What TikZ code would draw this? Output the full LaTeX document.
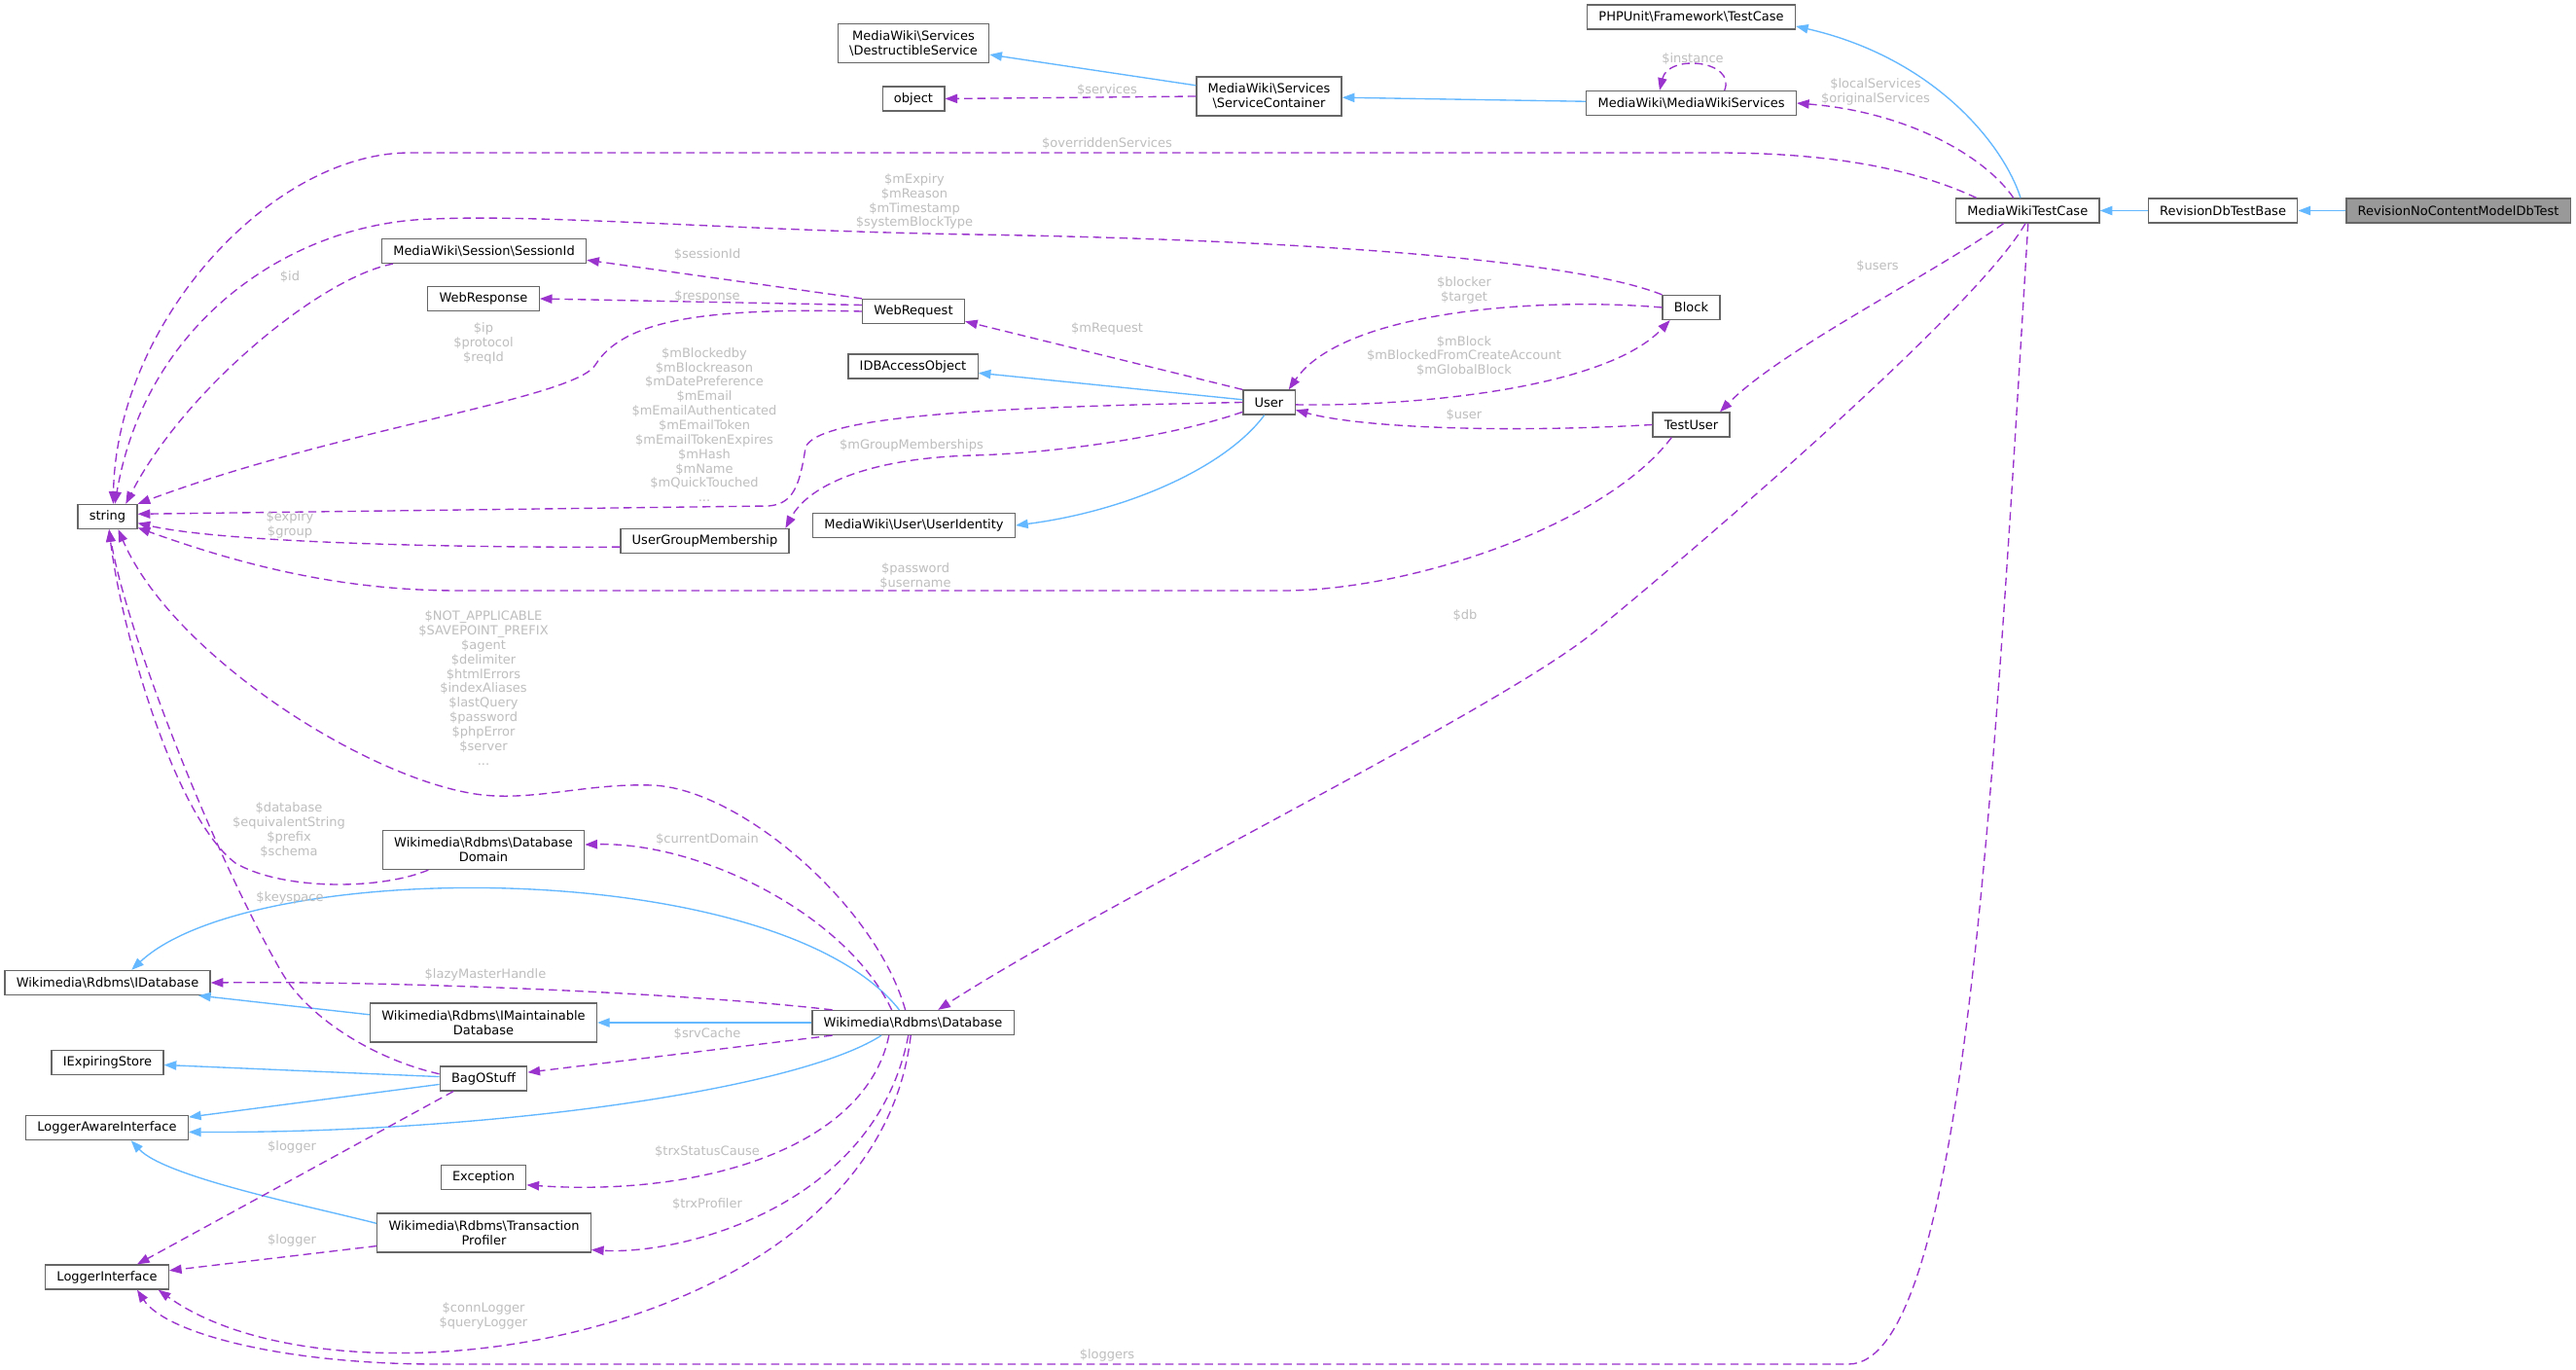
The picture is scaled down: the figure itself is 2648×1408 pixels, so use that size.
\documentclass[tikz,border=0pt]{standalone}
\usepackage{fontspec}
\setmainfont{DejaVu Sans}
\usepackage{tikz}
\usetikzlibrary{arrows.meta, positioning}
\definecolor{inhblue}{HTML}{63B8FF}
\definecolor{usepurple}{HTML}{9A32CD}
\definecolor{lblgrey}{HTML}{BEBEBE}
\definecolor{boxgrey}{HTML}{666666}
\definecolor{mainfill}{HTML}{999999}
\newcommand{\bs}{\textbackslash}

\begin{document}
\begin{tikzpicture}[
    x=0.5922pt, y=-0.5922pt,
    node distance=28.9pt,
    cls/.style={rectangle, draw=boxgrey, line width=0.75pt, fill=white, inner xsep=7pt, inner ysep=0pt, minimum height=14.8pt, align=center, font=\fontsize{7.7}{8.9}\selectfont},
    cls2/.style={cls, minimum height=23.7pt},
    mainbox/.style={cls, fill=mainfill},
    inh/.style={-{Triangle[length=7.5pt 0, width=5.5pt 0]}, draw=inhblue, line width=0.8pt},
    usage/.style={-{Triangle[length=7.5pt 0, width=5.5pt 0]}, draw=usepurple, line width=0.8pt, dash pattern=on 5pt off 3pt},
    lbl/.style={text=lblgrey, align=center, inner sep=0pt, font=\fontsize{7.7}{8.8}\selectfont},
]
\path[fill=white, use as bounding box] (0,0) rectangle (2648,1408);

% Test classes
\node[mainbox] (rncmdt) at (2527,216.5) {RevisionNoContentModelDbTest};
\node[cls, left=28.9pt of rncmdt] (rdtb) {RevisionDbTestBase};
\node[cls, left=29pt of rdtb] (mwtc) {MediaWikiTestCase};
\node[cls] (phpunit) at (1738.5,17.5) {PHPUnit\bs Framework\bs TestCase};

% Services
\node[cls] (mws) at (1738.5,106) {MediaWiki\bs MediaWikiServices};
\node[cls2] (sc) at (1304.5,99) {MediaWiki\bs Services\\\bs ServiceContainer};
\node[cls2] (ds) at (939,44.5) {MediaWiki\bs Services\\\bs DestructibleService};
\node[cls] (object) at (939,101.5) {object};

% Users and requests
\node[cls] (sessid) at (497.5,258) {MediaWiki\bs Session\bs SessionId};
\node[cls] (webresp) at (497,307) {WebResponse};
\node[cls] (webreq) at (939,320) {WebRequest};
\node[cls] (idbao) at (938.5,376.5) {IDBAccessObject};
\node[cls] (user) at (1304.5,413.5) {User};
\node[cls] (block) at (1738.5,316) {Block};
\node[cls] (testuser) at (1738.5,436.5) {TestUser};
\node[cls] (string) at (110.5,531) {string};
\node[cls] (uident) at (939.5,540) {MediaWiki\bs User\bs UserIdentity};
\node[cls] (ugm) at (724.5,556) {UserGroupMembership};

% Database side
\node[cls2] (dd) at (497,873.5) {Wikimedia\bs Rdbms\bs Database\\Domain};
\node[cls] (idb) at (110.5,1010) {Wikimedia\bs Rdbms\bs IDatabase};
\node[cls2] (imd) at (497,1051) {Wikimedia\bs Rdbms\bs IMaintainable\\Database};
\node[cls] (database) at (938.5,1051) {Wikimedia\bs Rdbms\bs Database};
\node[cls] (ies) at (110.5,1092) {IExpiringStore};
\node[cls] (bag) at (497,1108.5) {BagOStuff};
\node[cls] (lai) at (110,1159) {LoggerAwareInterface};
\node[cls] (exc) at (497,1210) {Exception};
\node[cls2] (tp) at (497.5,1267) {Wikimedia\bs Rdbms\bs Transaction\\Profiler};
\node[cls] (li) at (110,1312.5) {LoggerInterface};

% Inheritance
\draw[inh] (rncmdt) -- (rdtb);
\draw[inh] (rdtb) -- (mwtc);
\draw[inh] (mwtc.119) .. controls (2060,150) and (1990,60) .. (phpunit.-5);
\draw[inh] (mws) -- (sc);
\draw[inh] (sc) -- (ds);
\draw[inh] (user) -- (idbao);
\draw[inh] (user.250) .. controls (1260,480) and (1160,525) .. (uident.east);
\draw[inh] (database.137) .. controls (800,880) and (260,880) .. (idb.28);
\draw[inh] (imd.176) -- (idb.-8);
\draw[inh] (database) -- (imd);
\draw[inh] (bag) -- (ies);
\draw[inh] (bag) -- (lai);
\draw[inh] (database.-158) .. controls (820,1120) and (500,1165) .. (lai.-3);
\draw[inh] (tp.175) .. controls (320,1240) and (170,1210) .. (lai.-28);

% Usage: test case and services
\draw[usage] (mwtc.138) .. controls (2040,160) and (1960,115) .. (mws.east);
\draw[usage] (mws.21) .. controls (1785,62) and (1715,55) .. (mws.158);
\draw[usage] (sc.west) -- (object.east);
\draw[usage] (mwtc.166) .. controls (1960,170) and (1870,157) .. (1763,157) -- (421,157) .. controls (280,157) and (120,330) .. (string.66);
\draw[usage] (mwtc.-152) .. controls (1990,280) and (1830,360) .. (testuser.24);
\draw[usage] (mwtc.-100) .. controls (2030,320) and (1730,575) .. (1638,650) .. controls (1540,730) and (1130,930) .. (database.27);
\draw[usage] (mwtc.-88) .. controls (2050,800) and (2020,1402) .. (1900,1402) -- (450,1402) .. controls (290,1402) and (170,1370) .. (li.-23);

% Usage: users, blocks, requests
\draw[usage] (block.north west) .. controls (1600,260) and (1250,245) .. (1000,241) .. controls (760,237) and (560,220) .. (446,225) .. controls (300,228) and (150,330) .. (string.60);
\draw[usage] (sessid.188) .. controls (330,285) and (190,400) .. (string.35);
\draw[usage] (webreq.north west) -- (sessid.-5);
\draw[usage] (webreq.173) -- (webresp.east);
\draw[usage] (webreq.west) .. controls (720,316) and (640,330) .. (612,375) .. controls (590,410) and (350,440) .. (string.north east);
\draw[usage] (user.north west) -- (webreq.-11);
\draw[usage] (user.-5) .. controls (1450,418) and (1650,400) .. (block.-149);
\draw[usage] (block.west) .. controls (1580,305) and (1380,320) .. (user.33);
\draw[usage] (testuser.west) .. controls (1550,445) and (1400,440) .. (user.-16);
\draw[usage] (user.west) .. controls (1050,418) and (840,425) .. (828,460) .. controls (822,500) and (815,518) .. (790,520) -- (string.5);
\draw[usage] (user.200) .. controls (1200,450) and (1080,466) .. (1000,468) .. controls (890,471) and (830,500) .. (ugm.9);
\draw[usage] (ugm.184) .. controls (520,563) and (240,560) .. (string.-12);
\draw[usage] (testuser.-147) .. controls (1650,540) and (1450,607) .. (1319,607) -- (472,607) .. controls (360,607) and (260,585) .. (string.-20);

% Usage: database
\draw[usage] (database.121) .. controls (900,930) and (760,810) .. (670,807) .. controls (610,805) and (560,820) .. (510,818) .. controls (400,815) and (180,680) .. (string.-50);
\draw[usage] (dd.-160) .. controls (390,915) and (290,915) .. (242,887) .. controls (180,840) and (125,650) .. (string.-83);
\draw[usage] (bag.174) .. controls (390,1090) and (320,1050) .. (290,1000) .. controls (220,880) and (130,650) .. (string.-83);
\draw[usage] (database.149) .. controls (870,940) and (720,865) .. (dd.3);
\draw[usage] (database.171) .. controls (700,1020) and (400,1008) .. (idb.east);
\draw[usage] (database.-171) -- (bag.8);
\draw[usage] (bag.-157) -- (li.23);
\draw[usage] (tp.187) -- (li.6);
\draw[usage] (database.-152) .. controls (890,1180) and (720,1230) .. (exc.-10);
\draw[usage] (database.-110) .. controls (900,1240) and (700,1290) .. (tp.-9);
\draw[usage] (database.-100) .. controls (900,1380) and (350,1460) .. (li.-14);

% Edge labels
\node[lbl] (lLocal) at (1928,94) {\$localServices\\\$originalServices};
\node[lbl] (lInst) at (1740,61) {\$instance};
\node[lbl] (lServ) at (1138,93) {\$services};
\node[lbl] (lOver) at (1138,148) {\$overriddenServices};
\node[lbl] (lBlockStr) at (940,207) {\$mExpiry\\\$mReason\\\$mTimestamp\\\$systemBlockType};
\node[lbl] (lId) at (298,285) {\$id};
\node[lbl] (lSess) at (727,262) {\$sessionId};
\node[lbl] (lResp) at (727,305) {\$response};
\node[lbl] (lIp) at (497,353) {\$ip\\\$protocol\\\$reqId};
\node[lbl] (lReq) at (1138,338) {\$mRequest};
\node[lbl] (lBlk) at (1505,366) {\$mBlock\\\$mBlockedFromCreateAccount\\\$mGlobalBlock};
\node[lbl] (lBlocker) at (1505,298) {\$blocker\\\$target};
\node[lbl] (lUser) at (1505,427) {\$user};
\node[lbl] (lUsers) at (1930,274) {\$users};
\node[lbl] (lUserStr) at (724,436.5) {\$mBlockedby\\\$mBlockreason\\\$mDatePreference\\\$mEmail\\\$mEmailAuthenticated\\\$mEmailToken\\\$mEmailTokenExpires\\\$mHash\\\$mName\\\$mQuickTouched\\...};
\node[lbl] (lGroup) at (937,458) {\$mGroupMemberships};
\node[lbl] (lExp) at (298,539) {\$expiry\\\$group};
\node[lbl] (lPw) at (941,592) {\$password\\\$username};
\node[lbl] (lDb) at (1506,633) {\$db};
\node[lbl] (lDbStr) at (497,707) {\$NOT\_APPLICABLE\\\$SAVEPOINT\_PREFIX\\\$agent\\\$delimiter\\\$htmlErrors\\\$indexAliases\\\$lastQuery\\\$password\\\$phpError\\\$server\\...};
\node[lbl] (lDom) at (297,853) {\$database\\\$equivalentString\\\$prefix\\\$schema};
\node[lbl] (lCur) at (727,863) {\$currentDomain};
\node[lbl] (lKey) at (298,923) {\$keyspace};
\node[lbl] (lLazy) at (499,1002) {\$lazyMasterHandle};
\node[lbl] (lSrv) at (727,1063) {\$srvCache};
\node[lbl] (lLog1) at (300,1179) {\$logger};
\node[lbl] (lTrxS) at (727,1184) {\$trxStatusCause};
\node[lbl] (lTrxP) at (727,1238) {\$trxProfiler};
\node[lbl] (lLog2) at (300,1275) {\$logger};
\node[lbl] (lConn) at (497,1352) {\$connLogger\\\$queryLogger};
\node[lbl] (lLoggers) at (1138,1393) {\$loggers};

\end{tikzpicture}
\end{document}
